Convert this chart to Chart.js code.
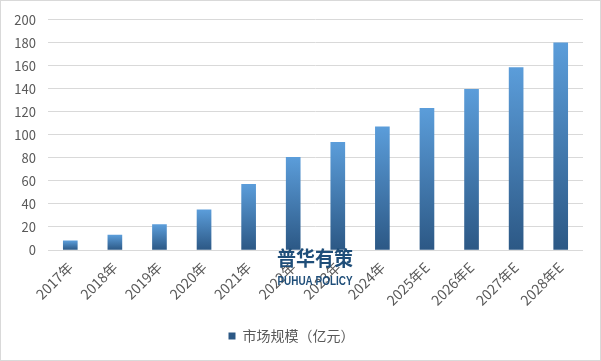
<!DOCTYPE html>
<html>
<head>
<meta charset="utf-8">
<script src="https://cdn.jsdelivr.net/npm/chart.js@4/dist/chart.umd.min.js"></script>
<style>
  html, body { margin: 0; padding: 0; background: #fff; }
  #wrap { width: 601px; height: 361px; }
</style>
</head>
<body>
<div id="wrap"><canvas id="chart" width="601" height="361"></canvas></div>
<script>
const years = ['2017年', '2018年', '2019年', '2020年', '2021年', '2022年', '2023年', '2024年', '2025年E', '2026年E', '2027年E', '2028年E'];
const marketSize = [8, 13, 22, 35, 57, 80.5, 93.5, 107, 123, 139.5, 158.5, 180];
const seriesName = '市场规模（亿元）';

const FONT = '"Noto Sans CJK SC", "Noto Sans", sans-serif';
const TEXT = '#595959';

// per-bar gradient, light top to dark bottom
function barGradient(context) {
  const chart = context.chart;
  const { ctx, chartArea, scales } = chart;
  if (!chartArea || context.parsed == null) return '#4a86c5';
  const top = scales.y.getPixelForValue(context.parsed.y);
  const bottom = scales.y.getPixelForValue(0);
  const g = ctx.createLinearGradient(0, top, 0, bottom);
  g.addColorStop(0, 'rgb(91, 157, 218)');
  g.addColorStop(1, 'rgb(44, 88, 133)');
  return g;
}

const extras = {
  id: 'extras',
  afterDraw(chart) {
    const { ctx } = chart;
    ctx.save();
    // outer frame
    ctx.strokeStyle = '#d9d9d9';
    ctx.lineWidth = 1;
    ctx.strokeRect(0.5, 0.5, 600, 360);
    // watermark
    ctx.fillStyle = '#1f4e79';
    ctx.textAlign = 'center';
    ctx.textBaseline = 'middle';
    ctx.font = 'bold 20px ' + FONT;
    ctx.fillText('普华有策', 315, 258, 76);
    ctx.font = 'bold 13px "Liberation Sans", sans-serif';
    ctx.fillText('PUHUA POLICY', 315, 281, 75);
    ctx.restore();
  }
};

new Chart(document.getElementById('chart'), {
  type: 'bar',
  data: {
    labels: years,
    datasets: [{
      label: seriesName,
      data: marketSize,
      backgroundColor: barGradient,
      borderWidth: 0,
      barThickness: 14
    }]
  },
  options: {
    responsive: false,
    animation: false,
    layout: { padding: { top: 19, right: 18, bottom: 8, left: 0 } },
    scales: {
      y: {
        min: 0,
        max: 200,
        ticks: { stepSize: 20, color: TEXT, font: { family: FONT, size: 13 }, padding: 12 },
        grid: { color: '#d9d9d9', drawTicks: false },
        border: { display: false },
        afterFit(scale) { scale.width = 48; }
      },
      x: {
        ticks: { color: TEXT, font: { family: FONT, size: 14 }, minRotation: 45, maxRotation: 45, padding: 9 },
        grid: { display: false, drawTicks: false },
        border: { display: false },
        afterFit(scale) { scale.height = 72; }
      }
    },
    plugins: {
      legend: {
        position: 'bottom',
        labels: {
          color: TEXT,
          font: { family: FONT, size: 14 },
          boxWidth: 7,
          boxHeight: 7,
          padding: 7
        }
      },
      tooltip: { enabled: false }
    }
  },
  plugins: [extras]
});
</script>
</body>
</html>
